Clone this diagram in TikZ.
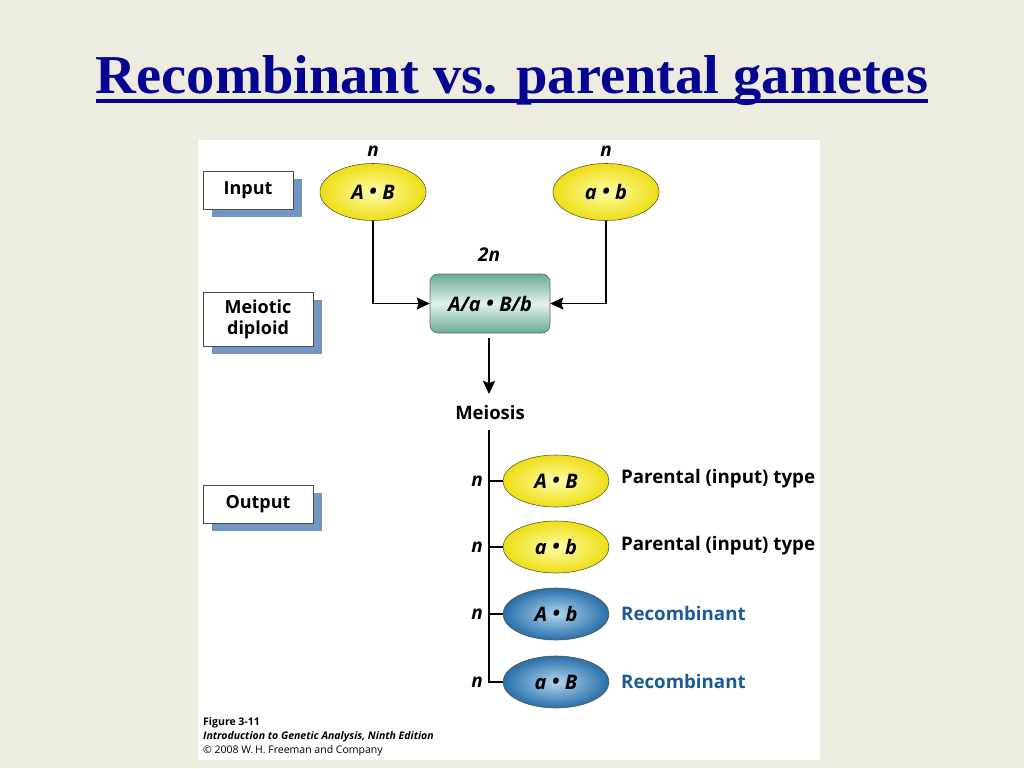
\documentclass[tikz,border=0pt]{standalone}
\usepackage{fontspec}
\setmainfont{Liberation Serif}
\newfontfamily\figfont{Open Sans}
\usetikzlibrary{shadows,arrows.meta,shapes.geometric}
\definecolor{bgbeige}{RGB}{238,235,224}
\definecolor{titleblue}{RGB}{5,5,145}
\definecolor{shadowblue}{RGB}{100,138,188}
\definecolor{yelout}{RGB}{238,222,20}
\definecolor{yelin}{RGB}{255,252,170}
\definecolor{bluout}{RGB}{40,110,170}
\definecolor{bluin}{RGB}{175,215,240}
\definecolor{tealout}{RGB}{105,170,155}
\definecolor{tealin}{RGB}{225,242,238}
\definecolor{recblue}{RGB}{25,90,155}
\definecolor{ellborder}{RGB}{90,90,60}
\newcommand{\fs}[1]{\figfont\fontsize{#1}{#1}\selectfont\bfseries}
\newcommand{\gdot}{\hspace{0.28em}\raisebox{0.05em}{\textbullet}\hspace{0.28em}}
\tikzset{
  lblbox/.style={draw=black!70, line width=0.8pt, fill=white, minimum height=38pt, align=center,
    font=\fs{18}, inner sep=0pt,
    drop shadow={shadow xshift=9pt, shadow yshift=-8pt, fill=shadowblue, opacity=0.9}},
  yell/.style={ellipse, draw=ellborder, line width=0.6pt, minimum width=106pt, minimum height=57pt, inner sep=0pt,
    inner color=yelin, outer color=yelout, font=\fs{20}\itshape},
  bell/.style={ellipse, draw=ellborder, line width=0.6pt, minimum width=106pt, minimum height=52pt, inner sep=0pt,
    inner color=bluin, outer color=bluout, font=\fs{20}\itshape},
  yello/.style={yell, minimum height=52pt},
  conn/.style={line width=1.9pt, black},
  arr/.style={conn, -{Stealth[length=13pt,width=12pt,inset=2pt]}},
  nlbl/.style={font=\fs{19}\itshape, inner sep=1pt},
  txt/.style={font=\fs{18.7}, anchor=west, inner sep=0pt},
  captxt/.style={font=\figfont\fontsize{10.5}{12}\selectfont, anchor=west, inner sep=0pt}
}
\begin{document}
\begin{tikzpicture}[x=1pt,y=-1pt]
\useasboundingbox (0,0) rectangle (1024,768);
\fill[bgbeige] (0,0) rectangle (1024,768);
% title
\node[font=\fontsize{54}{60}\selectfont\bfseries, text=titleblue, anchor=base, inner sep=0pt] (title) at (512,93)
  {\resizebox{832pt}{38pt}{Recombinant vs. parental gametes}};
\fill[titleblue] (96,98.5) rectangle (928,103);
% panel
\fill[white] (198,140) rectangle (820,760);
% label boxes
\node[lblbox, minimum width=90pt] (input) at (248,190) {Input};
\node[lblbox, minimum width=110pt, minimum height=54pt, font=\figfont\fontsize{18}{21}\selectfont\bfseries] (diploid) at (258,319) {Meiotic\\diploid};
\node[lblbox, minimum width=110pt] (output) at (258,504) {Output};
% inputs
\node[yell] (AB) at (373,192) {A\gdot B};
\node[yell] (ab) at (606,192) {a\gdot b};
\node[nlbl] (n1) at (373,151) {n};
\node[nlbl] (n2) at (606,151) {n};
% diploid
\node[nlbl] (twon) at (489,255) {2n};
\node[rounded corners=8pt, draw=black!60, line width=0.6pt, minimum width=120pt, minimum height=59pt,
  top color=tealout, bottom color=tealout, middle color=tealin, inner sep=0pt,
  font=\fs{20}\itshape] (dip) at (490,303.5) {A/a\gdot B/b};
\draw[arr] (AB.south) |- (dip.west);
\draw[arr] (ab.south) |- (dip.east);
% meiosis
\node[font=\fs{18.5}] (mei) at (490,413) {Meiosis};
\coordinate (dtop) at (489,338);
\draw[arr] (dtop) -- (489,394);
% outputs
\node[yello] (o1) at (556,481) {A\gdot B};
\node[yello] (o2) at (556,547) {a\gdot b};
\node[bell] (o3) at (556,614) {A\gdot b};
\node[bell] (o4) at (556,682) {a\gdot B};
\coordinate (vtop) at (489,430);
\coordinate (b1) at (489,481);
\coordinate (b2) at (489,547);
\coordinate (b3) at (489,614);
\draw[conn] (vtop) |- (o4.west);
\draw[conn] (b1) -- (o1.west);
\draw[conn] (b2) -- (o2.west);
\draw[conn] (b3) -- (o3.west);
\node[nlbl, anchor=east] (m1) at (484,481) {n};
\node[nlbl, anchor=east] (m2) at (484,547) {n};
\node[nlbl, anchor=east] (m3) at (484,614) {n};
\node[nlbl, anchor=east] (m4) at (484,682) {n};
\node[txt] (t1) at (621,479) {Parental (input) type};
\node[txt] (t2) at (621,546) {Parental (input) type};
\node[txt, text=recblue] (t3) at (621,613) {Recombinant};
\node[txt, text=recblue] (t4) at (621,681) {Recombinant};
% caption
\node[captxt, font=\figfont\fontsize{10.5}{12}\selectfont\bfseries] (c1) at (203,723) {Figure 3-11};
\node[captxt, font=\figfont\fontsize{10.5}{12}\selectfont\bfseries\itshape] (c2) at (203,737) {Introduction to Genetic Analysis, Ninth Edition};
\node[captxt] (c3) at (203,751) {\textcopyright{} 2008 W.\,H. Freeman and Company};
\end{tikzpicture}
\end{document}
